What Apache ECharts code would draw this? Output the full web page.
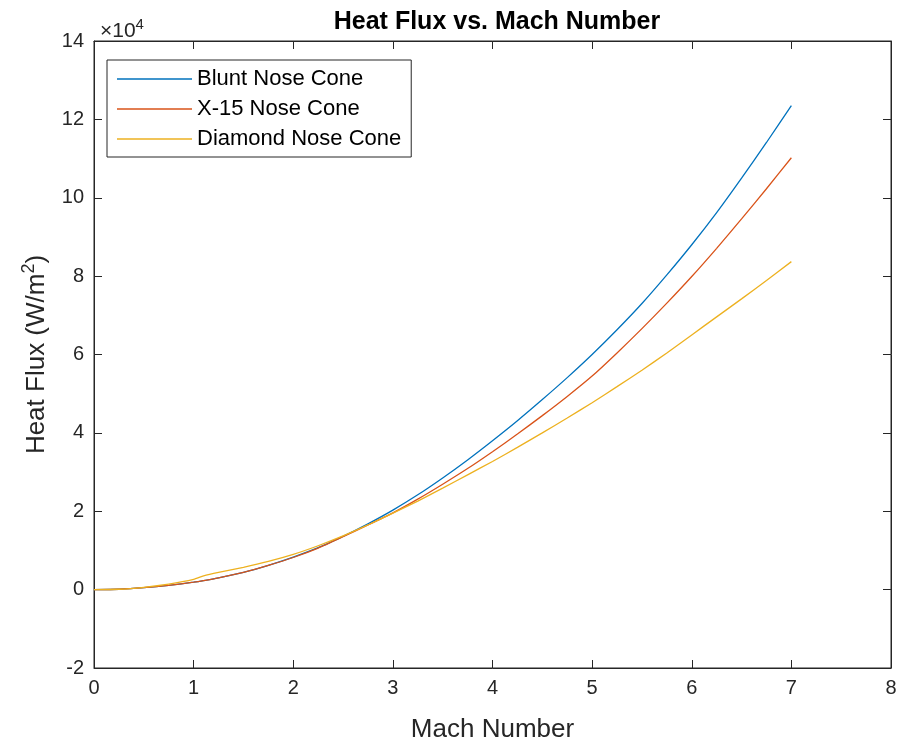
<!DOCTYPE html>
<html>
<head>
<meta charset="utf-8">
<script src="https://cdn.jsdelivr.net/npm/echarts@6/dist/echarts.min.js"></script>
<style>html,body{margin:0;padding:0;background:#fff}#c{width:900px;height:747px}</style>
</head>
<body>
<div id="c"></div>
<script>
const mach = [0,0.25,0.5,0.75,1,1.1,1.25,1.5,1.75,2,2.25,2.5,2.75,3,3.25,3.5,3.75,4,4.25,4.5,4.75,5,5.25,5.5,5.75,6,6.25,6.5,6.75,7];
const blunt = [0,0.01,0.05,0.11,0.19,0.23,0.3,0.44,0.62,0.83,1.07,1.36,1.68,2.03,2.42,2.85,3.31,3.8,4.31,4.85,5.41,6.0,6.63,7.3,8.03,8.8,9.62,10.5,11.41,12.35];
const x15 = [0,0.01,0.05,0.11,0.19,0.23,0.3,0.44,0.62,0.82,1.06,1.35,1.65,1.96,2.31,2.69,3.09,3.52,3.97,4.44,4.93,5.45,6.04,6.66,7.31,7.99,8.71,9.46,10.23,11.02];
const diamond = [0,0.01,0.06,0.14,0.26,0.35,0.44,0.57,0.72,0.9,1.12,1.37,1.65,1.95,2.26,2.59,2.93,3.27,3.63,4.0,4.38,4.77,5.18,5.6,6.04,6.5,6.96,7.42,7.89,8.37];
const seriesNames = ['Blunt Nose Cone','X-15 Nose Cone','Diamond Nose Cone'];
const xTicks = [0,1,2,3,4,5,6,7,8];
const yTicks = [-2,0,2,4,6,8,10,12,14];

const colors = ['#0072BD','#D95319','#EDB120'];
const font = 'Liberation Sans, Arial, sans-serif';
const pair = ys => mach.map((m,i)=>[m, ys[i]]);
const axisLine = {show:true, onZero:false, lineStyle:{color:'#262626', width:1}};
const tick = {show:true, inside:true, length:8, lineStyle:{color:'#262626'}};

const chart = echarts.init(document.getElementById('c'), null, {renderer:'canvas'});
chart.setOption({
  backgroundColor:'#fff',
  animation:false,
  title:[
    {text:'Heat Flux vs. Mach Number', left:492, top:5, textAlign:'center',
     textStyle:{fontFamily:font, fontSize:25, fontWeight:'bold', color:'#000'}},
    {text:'×10{sup|4}', left:95, top:12,
     textStyle:{fontFamily:font, fontSize:21, fontWeight:'normal', color:'#262626',
       rich:{sup:{fontSize:15, verticalAlign:'top', padding:[0,0,14,0], fontFamily:font, color:'#262626'}}}}
  ],
  grid:{left:94, right:9, top:41, bottom:79, show:true, borderColor:'#262626', borderWidth:1,
        containLabel:false, outerBoundsMode:'none'},
  legend:{
    orient:'vertical', left:107, top:60, data:seriesNames,
    icon:'rect', itemWidth:75, itemHeight:1.5, itemGap:8,
    backgroundColor:'#fff', borderColor:'#262626', borderWidth:1,
    padding:[8,10,7,10],
    textStyle:{fontFamily:font, fontSize:22, color:'#000'}
  },
  xAxis:[
    {type:'value', min:xTicks[0], max:xTicks[xTicks.length-1], interval:1,
     name:'Mach Number', nameLocation:'middle', nameGap:49,
     nameTextStyle:{fontFamily:font, fontSize:26, color:'#262626'},
     axisLine:axisLine, axisTick:tick, splitLine:{show:false},
     axisLabel:{fontFamily:font, fontSize:20, color:'#262626', margin:10}},
    {type:'value', position:'top', min:xTicks[0], max:xTicks[xTicks.length-1], interval:1,
     axisLine:axisLine, axisTick:tick, splitLine:{show:false}, axisLabel:{show:false}}
  ],
  yAxis:[
    {type:'value', min:yTicks[0], max:yTicks[yTicks.length-1], interval:2,
     name:'Heat Flux (W/m{sup|2})', nameLocation:'middle', nameGap:40,
     nameTextStyle:{fontFamily:font, fontSize:26, color:'#262626',
       rich:{sup:{fontSize:18, verticalAlign:'top', padding:[0,0,16,0], fontFamily:font, color:'#262626'}}},
     axisLine:axisLine, axisTick:tick, splitLine:{show:false},
     axisLabel:{fontFamily:font, fontSize:20, color:'#262626', margin:10}},
    {type:'value', position:'right', min:yTicks[0], max:yTicks[yTicks.length-1], interval:2,
     axisLine:axisLine, axisTick:tick, splitLine:{show:false}, axisLabel:{show:false}}
  ],
  series:[blunt, x15, diamond].map((d,i)=>({
    name:seriesNames[i], type:'line', data:pair(d), showSymbol:false, symbol:'none',
    smooth:0.2,
    lineStyle:{color:colors[i], width:1.3}, itemStyle:{color:colors[i]}
  }))
});
</script>
</body>
</html>
